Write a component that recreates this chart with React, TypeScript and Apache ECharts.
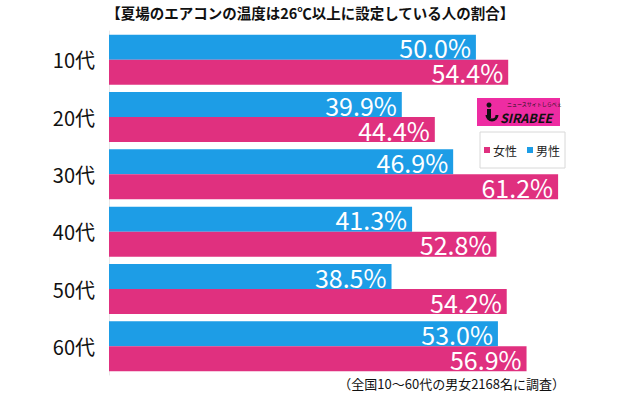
import React, { useEffect, useRef } from "react";
import * as echarts from "echarts";

const categories = ["10代", "20代", "30代", "40代", "50代", "60代"];
const male = [50.0, 39.9, 46.9, 41.3, 38.5, 53.0];
const female = [54.4, 44.4, 61.2, 52.8, 54.2, 56.9];
const titleText = "【夏場のエアコンの温度は26℃以上に設定している人の割合】";
const noteText = "（全国10～60代の男女2168名に調査）";

const FONT = "'Noto Sans CJK JP', 'Noto Sans', sans-serif";
const BLUE = "#1d9de6";
const PINK = "#e0307f";

export default function App() {
  const ref = useRef<HTMLDivElement>(null);
  useEffect(() => {
    document.body.style.margin = "0";
    const chart = echarts.init(ref.current!, null, { renderer: "svg" });
    const label = {
      show: true,
      position: "insideRight" as const,
      distance: 5,
      color: "#fff",
      fontSize: 25,
      lineHeight: 20,
      fontFamily: FONT,
      formatter: (p: any) => Number(p.value).toFixed(1) + "%",
    };
    chart.setOption({
      animation: false,
      textStyle: { fontFamily: FONT },
      grid: { left: 109, top: 31, height: 344, width: 499 },
      xAxis: {
        type: "value",
        min: 0,
        max: 68,
        show: false,
      },
      yAxis: {
        type: "category",
        data: categories,
        inverse: true,
        axisLine: { show: true, lineStyle: { color: "#e8e8e8", width: 1 } },
        axisTick: { show: false },
        axisLabel: { color: "#111", fontSize: 20, margin: 14, fontFamily: FONT },
      },
      legend: {
        data: ["女性", "男性"],
        left: 480,
        top: 132,
        itemWidth: 6,
        itemHeight: 6,
        itemGap: 10,
        icon: "rect",
        borderColor: "#d8d8d8",
        borderWidth: 1,
        padding: [12, 5, 12, 4],
        textStyle: { fontSize: 12, color: "#222", fontFamily: FONT, padding: [0, 0, 0, -2] },
      },
      series: [
        {
          name: "男性",
          type: "bar",
          data: male,
          barWidth: 25,
          barGap: "0%",
          itemStyle: { color: BLUE },
          label,
        },
        {
          name: "女性",
          type: "bar",
          data: female,
          barWidth: 25,
          barGap: "0%",
          itemStyle: { color: PINK },
          label,
        },
      ],
      graphic: [
        {
          type: "text",
          left: "center",
          top: 5,
          style: { text: titleText, fontSize: 14.5, fontWeight: "bold", fill: "#111", fontFamily: FONT },
        },
        {
          type: "text",
          right: 56,
          top: 376,
          style: { text: noteText, fontSize: 13, lineHeight: 14, fill: "#111", fontFamily: FONT },
        },
        {
          type: "group",
          left: 477,
          top: 98,
          children: [
            { type: "rect", shape: { x: 0, y: 0, width: 83, height: 28 }, style: { fill: "#ee2ca2" } },
            {
              type: "text",
              x: 23,
              y: 14,
              style: { text: "SIRABEE", fontSize: 12.5, lineHeight: 11, fontWeight: "bold", fontStyle: "italic", fill: "#111", fontFamily: FONT },
            },
            {
              type: "text",
              x: 30,
              y: 3,
              style: { text: "ニュースサイトしらべぇ", fontSize: 5, lineHeight: 5, fill: "#111", fontFamily: FONT },
            },
            { type: "circle", shape: { cx: 12, cy: 7, r: 2.5 }, style: { fill: "#111" } },
            { type: "rect", shape: { x: 10, y: 11, width: 4, height: 9 }, style: { fill: "#111" } },
            { type: "arc", shape: { cx: 15, cy: 17, r: 5, startAngle: 0, endAngle: Math.PI }, style: { stroke: "#111", lineWidth: 3, fill: "none" } },
          ],
        },
      ],
    });
    return () => chart.dispose();
  }, []);
  return <div ref={ref} style={{ width: 621, height: 393, background: "#fff" }} />;
}
